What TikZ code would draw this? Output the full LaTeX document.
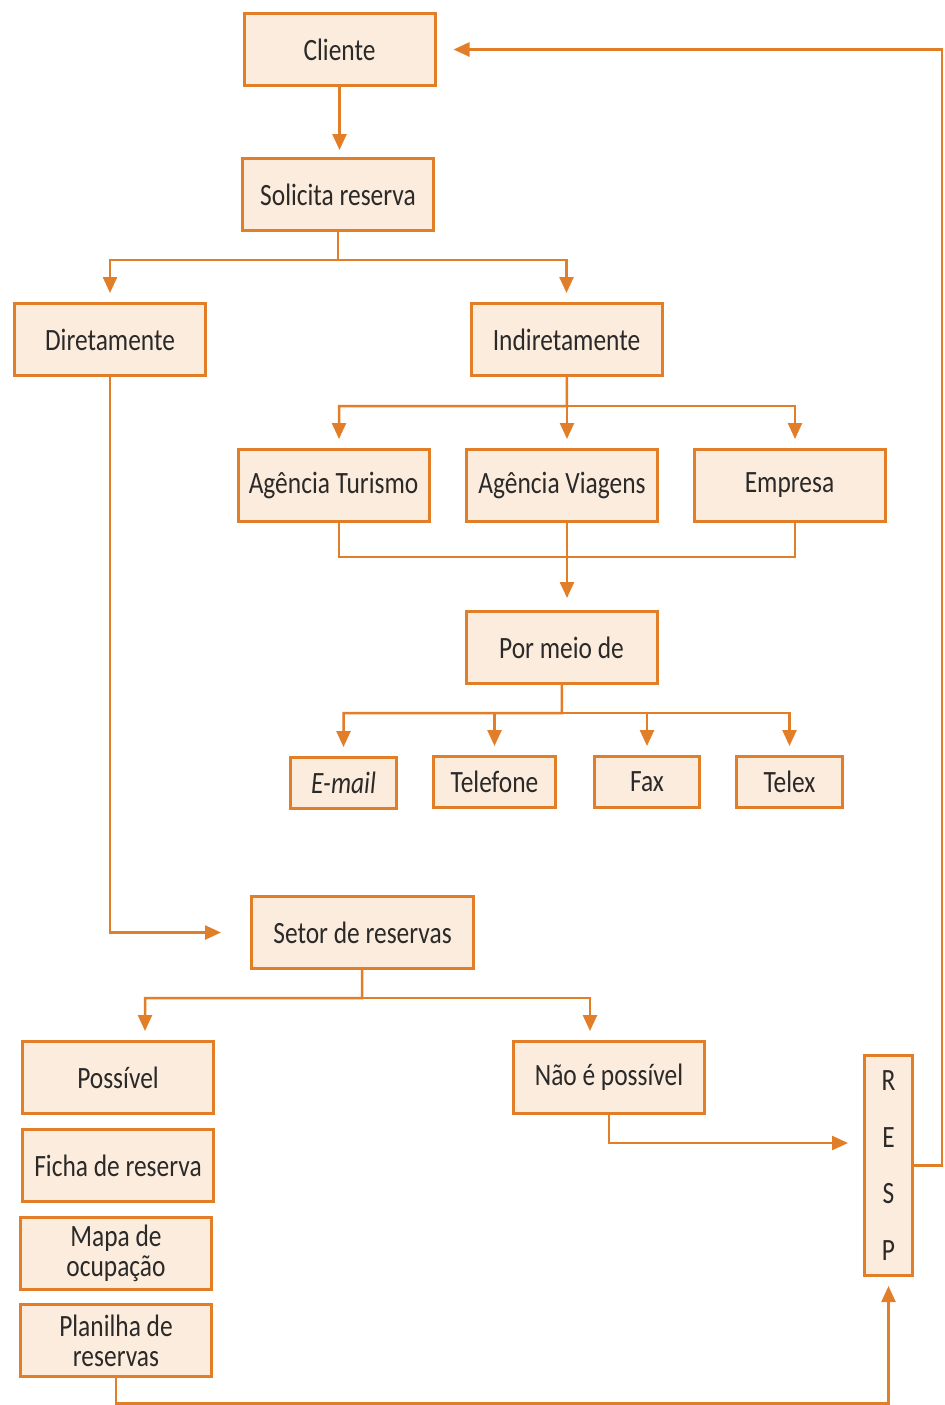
\documentclass[tikz,border=0pt]{standalone}
\usepackage{fontspec}
\setmainfont{Carlito}[FakeStretch=0.82]
\usetikzlibrary{arrows.meta}
\definecolor{laranja}{HTML}{E27D28}
\definecolor{creme}{HTML}{FBECDD}
\definecolor{texto}{HTML}{2B2A29}
\begin{document}
\begin{tikzpicture}[x=0.5pt,y=-0.5pt,
   caixa/.style={draw=laranja,fill=creme,line width=1.5pt,minimum width=95.5pt,
      minimum height=36pt,inner sep=0pt,text=texto,align=center,
      font=\fontsize{15.5}{15}\selectfont},
   miuda/.style={caixa,minimum height=25.5pt},
   liga/.style={draw=laranja,line width=1.25pt},
   seta/.style={liga,-{Triangle[length=8pt,width=7pt]},shorten >=4.5pt}]
   \useasboundingbox (0,0) rectangle (945,1405);
   % caixas
   \node [caixa] (cli) at (339.5,49.5) {Cliente};
   \node [caixa] (sol) at (338,194.5) {Solicita reserva};
   \node [caixa] (dir) at (110,339.5) {Diretamente};
   \node [caixa] (ind) at (566.5,339.5) {Indiretamente};
   \node [caixa] (agt) at (333.5,485.5) {Agência Turismo};
   \node [caixa] (agv) at (562,485.5) {Agência Viagens};
   \node [caixa] (emp) at (789.5,485.5) {Empresa};
   \node [caixa] (pmd) at (561.5,647.5) {Por meio de};
   \node [miuda,minimum width=53pt] (eml) at (343.5,783) {\itshape E-mail};
   \node [miuda,minimum width=61pt] (tel) at (494.5,782) {Telefone};
   \node [miuda,minimum width=52.5pt] (fax) at (647,782) {Fax};
   \node [miuda,minimum width=53pt] (tlx) at (789.5,782) {Telex};
   \node [caixa,minimum width=111pt] (set) at (362.5,932.5) {Setor de reservas};
   \node [caixa] (pos) at (118,1077.5) {Possível};
   \node [caixa] (fic) at (118,1165.5) {Ficha de reserva};
   \node [caixa] (map) at (116,1253.5) {Mapa de\\ocupação};
   \node [caixa] (pla) at (116,1340.5) {Planilha de\\reservas};
   \node [caixa] (nao) at (609,1077.5) {Não é possível};
   \node [caixa,minimum width=24pt,minimum height=110pt,
      font=\fontsize{15.5}{28.3}\selectfont] (resp) at (888.5,1165.5) {R\\E\\S\\P};
   % ligacoes
   \draw [seta,shorten >=3.5pt] (cli) -- (cli |- sol.north);
   \coordinate (s1) at (338,260);
   \draw [seta] (sol) -- (s1) -| (dir);
   \draw [seta] (s1) -| (ind);
   \coordinate (i1) at (567,406);
   \draw [seta] (ind) -- (i1) -| ([xshift=2.75pt]agt.north);
   \draw [seta] (i1) -- (i1 |- agv.north);
   \draw [seta] (i1) -| ([xshift=2.75pt]emp.north);
   \draw [liga] ([xshift=2.75pt]agt.south) -- ++(0,34) -| ([xshift=2.75pt]emp.south);
   \draw [seta,shorten >=6pt] ([xshift=2.5pt]agv.south) -- ([xshift=2.75pt]pmd.north);
   \coordinate (p1) at (562,713);
   \draw [seta] (pmd) -- (p1) -| (eml);
   \draw [seta] (p1) -| (tel);
   \draw [seta] (p1) -| (fax);
   \draw [seta] (p1) -| (tlx);
   \draw [seta,shorten >=14.5pt] (dir) |- (set);
   \coordinate (r1) at (362,998);
   \draw [seta] (set) -- (r1) -| ([xshift=13.5pt]pos.north);
   \draw [seta] (r1) -| ([xshift=-9.5pt]nao.north);
   \draw [seta,shorten >=7.5pt] (nao) |- ([yshift=11.25pt]resp.west);
   \draw [seta,shorten >=8.5pt] (resp.east) -- ++(28,0) |- (cli);
   \draw [seta] (pla) -- ++(0,63) -| (resp);
\end{tikzpicture}
\end{document}
